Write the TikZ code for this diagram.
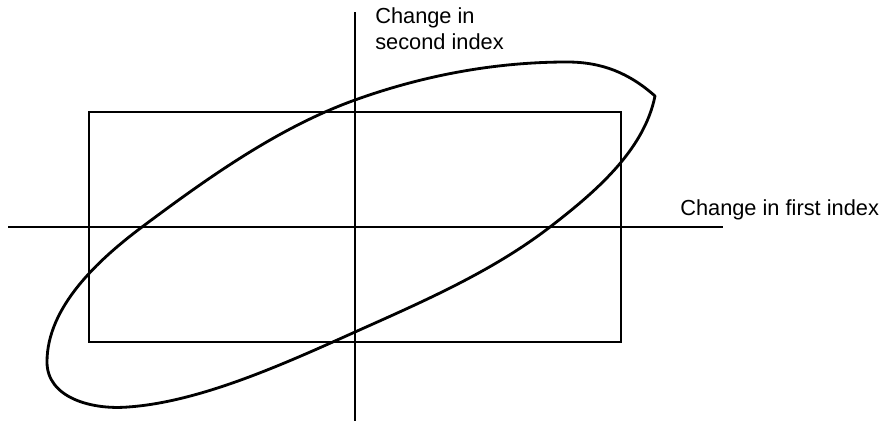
\documentclass[tikz,border=0pt]{standalone}
\usepackage{fontspec}
\setmainfont{Liberation Sans}
\begin{document}
\begin{tikzpicture}[x=0.025cm,y=-0.025cm,
  axisline/.style={line width=2.1pt},
  boxline/.style={line width=2.1pt},
  curveline/.style={line width=2pt, line join=round},
  lbl/.style={inner sep=0pt,font=\fontsize{15.5}{18}\selectfont}]
\useasboundingbox (0,0) rectangle (883,421);
% axes
\coordinate (xl) at (8,227);
\coordinate (xr) at (723,227);
\coordinate (yt) at (355,12);
\coordinate (yb) at (355,421);
\draw[axisline] (xl) -- (xr);
\draw[axisline] (yt) -- (yb);
% rectangle
\coordinate (rtl) at (89,112);
\coordinate (rbr) at (621,342);
\draw[boxline] (rtl) rectangle (rbr);
% tilted closed curve
\coordinate (T) at (655,96);
\coordinate (A) at (550,227);
\coordinate (B) at (355,332);
\coordinate (C) at (128,407);
\coordinate (D) at (47,362);
\coordinate (E) at (142,227);
\coordinate (F) at (355,100);
\coordinate (G) at (567,62);
\draw[curveline] (T)
  .. controls (644,151) and (594,193) .. (A)
  .. controls (491.5,272) and (422,302) .. (B)
  .. controls (284,364) and (200,402) .. (C)
  .. controls (92,410) and (47,398) .. (D)
  .. controls (47,307) and (98,260) .. (E)
  .. controls (205,180) and (277,128) .. (F)
  .. controls (423,75.5) and (495,62) .. (G)
  .. controls (602,62) and (629,73) .. (T) -- cycle;
% labels
\node[lbl, anchor=base west, align=left] (ylab) at (375,49) {Change in\\second index};
\node[lbl, anchor=base west] (xlab) at (680,215) {Change in first index};
\end{tikzpicture}
\end{document}
